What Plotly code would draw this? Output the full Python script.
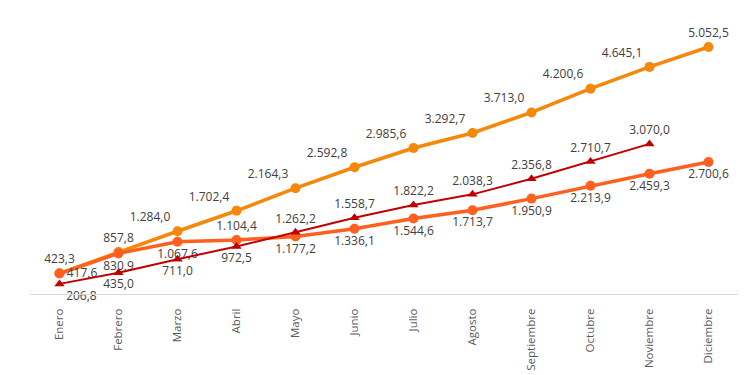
import plotly.graph_objects as go

meses = ["Enero", "Febrero", "Marzo", "Abril", "Mayo", "Junio", "Julio",
         "Agosto", "Septiembre", "Octubre", "Noviembre", "Diciembre"]

serie_a = [423.3, 857.8, 1284.0, 1702.4, 2164.3, 2592.8, 2985.6, 3292.7,
           3713.0, 4200.6, 4645.1, 5052.5]
serie_b = [417.6, 830.9, 1067.6, 1104.4, 1177.2, 1336.1, 1544.6, 1713.7,
           1950.9, 2213.9, 2459.3, 2700.6]
serie_c = [206.8, 435.0, 711.0, 972.5, 1262.2, 1558.7, 1822.2, 2038.3,
           2356.8, 2710.7, 3070.0]

pos_a = ["top center", "top center"] + ["top left"] * 9 + ["top center"]
pos_b = ["middle right", "bottom center", "bottom center", "top center"] + ["bottom center"] * 8
pos_c = ["bottom right", "bottom center", "bottom center", "bottom center"] + ["top center"] * 7

lbl_font = dict(family="Open Sans", size=12, color="#404040")

fig = go.Figure()
fig.add_trace(go.Scatter(
    x=meses, y=serie_a, mode="lines+markers+text",
    line=dict(color="#F5870A", width=3.5),
    marker=dict(symbol="circle", size=10, color="#F5870A"),
    texttemplate="%{y:,.1f}", textposition=pos_a, textfont=lbl_font,
    cliponaxis=False, showlegend=False))
fig.add_trace(go.Scatter(
    x=meses, y=serie_b, mode="lines+markers+text",
    line=dict(color="#FF5F1F", width=3.5),
    marker=dict(symbol="circle", size=10, color="#FF5F1F"),
    texttemplate="%{y:,.1f}", textposition=pos_b, textfont=lbl_font,
    cliponaxis=False, showlegend=False))
fig.add_trace(go.Scatter(
    x=meses[:len(serie_c)], y=serie_c, mode="lines+markers+text",
    line=dict(color="#C00000", width=2),
    marker=dict(symbol="triangle-up", size=9, color="#C00000"),
    texttemplate="%{y:,.1f}", textposition=pos_c, textfont=lbl_font,
    cliponaxis=False, showlegend=False))

fig.update_layout(
    width=742, height=367,
    margin=dict(l=22, r=12, t=2, b=81, autoexpand=False),
    paper_bgcolor="white", plot_bgcolor="white",
    separators=",.",
    xaxis=dict(range=[-0.5, 11.5], showgrid=False, zeroline=False,
               showline=True, linecolor="#D9D9D9", linewidth=1,
               tickangle=-90, ticks="", ticklabelstandoff=9, automargin=False,
               tickfont=dict(family="Open Sans", size=11.5, color="#595959")),
    yaxis=dict(range=[0, 5809], showgrid=False, zeroline=False, automargin=False,
               showticklabels=False, showline=False, fixedrange=True),
)

fig.write_html("out.html")
